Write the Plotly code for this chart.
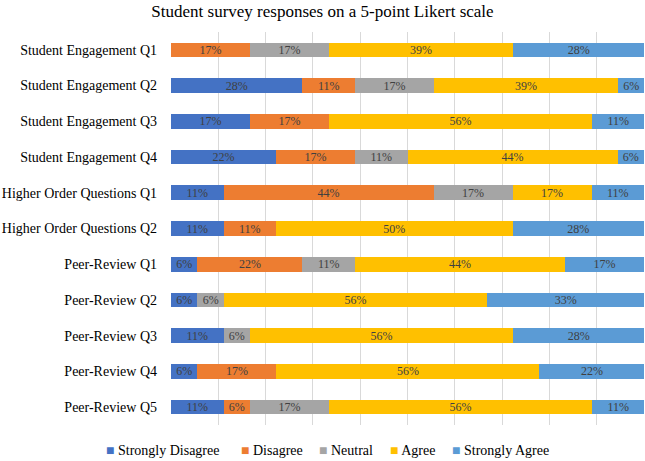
import plotly.graph_objects as go

categories = [
    "Student Engagement Q1", "Student Engagement Q2", "Student Engagement Q3",
    "Student Engagement Q4", "Higher Order Questions Q1", "Higher Order Questions Q2",
    "Peer-Review Q1", "Peer-Review Q2", "Peer-Review Q3", "Peer-Review Q4", "Peer-Review Q5",
]
strongly_disagree = [0, 27.8, 16.7, 22.2, 11.1, 11.1, 5.6, 5.6, 11.1, 5.6, 11.1]
disagree =          [16.7, 11.1, 16.7, 16.7, 44.4, 11.1, 22.2, 0, 0, 16.7, 5.6]
neutral =           [16.7, 16.7, 0, 11.1, 16.7, 0, 11.1, 5.6, 5.6, 0, 16.7]
agree =             [38.9, 38.9, 55.6, 44.4, 16.7, 50.0, 44.4, 55.6, 55.6, 55.6, 55.6]
strongly_agree =    [27.8, 5.6, 11.1, 5.6, 11.1, 27.8, 16.7, 33.3, 27.8, 22.2, 11.1]

series = [
    ("Strongly Disagree", strongly_disagree, "#4472C4"),
    ("Disagree", disagree, "#ED7D31"),
    ("Neutral", neutral, "#A5A5A5"),
    ("Agree", agree, "#FFC000"),
    ("Strongly Agree", strongly_agree, "#5B9BD5"),
]

# legend entry left edges (paper x)
legend_x = [-0.1416, 0.1438, 0.3087, 0.4588, 0.5899]

FONT = "Liberation Serif, Times New Roman, serif"

fig = go.Figure()
for i, (name, vals, color) in enumerate(series):
    labels = [f"{v:.0f}%" if v > 0 else "" for v in vals]
    fig.add_trace(go.Bar(
        y=categories, x=vals, name=name, orientation="h",
        marker=dict(color=color, line=dict(width=0)),
        text=labels, textposition="inside", insidetextanchor="middle",
        textangle=0, constraintext="none",
        insidetextfont=dict(family=FONT, size=12, color="#404040"),
        hoverinfo="skip", showlegend=False,
    ))
    fig.add_annotation(
        xref="paper", yref="paper", x=legend_x[i], y=-0.066,
        xanchor="left", yanchor="middle", showarrow=False,
        text=f"<span style='color:{color}'>■</span> {name}",
        font=dict(family=FONT, size=14, color="#000000"),
    )

fig.update_layout(
    barmode="stack",
    bargap=0.59,
    width=645, height=461,
    margin=dict(l=171, r=1, t=32, b=36),
    paper_bgcolor="white", plot_bgcolor="white",
    font=dict(family=FONT, size=14, color="#000000"),
    title=dict(text="Student survey responses on a 5-point Likert scale",
               x=0.5, xanchor="center", y=0.975, yanchor="middle",
               font=dict(family=FONT, size=17, color="#000000")),
    showlegend=False,
)
fig.update_xaxes(range=[0, 100], dtick=10, showticklabels=False, showgrid=True,
                 gridcolor="#D9D9D9", gridwidth=1, zeroline=False, showline=False,
                 fixedrange=True, automargin=False)
fig.update_yaxes(autorange="reversed", categoryorder="array", categoryarray=categories,
                 showgrid=False, showline=False, ticks="", ticklabelstandoff=13,
                 automargin=False, fixedrange=True,
                 tickfont=dict(family=FONT, size=14, color="#000000"))

fig.write_html(
    "out.html",
    config={"displayModeBar": False},
    post_script="document.body.style.margin='0';document.body.style.overflow='hidden';",
)
